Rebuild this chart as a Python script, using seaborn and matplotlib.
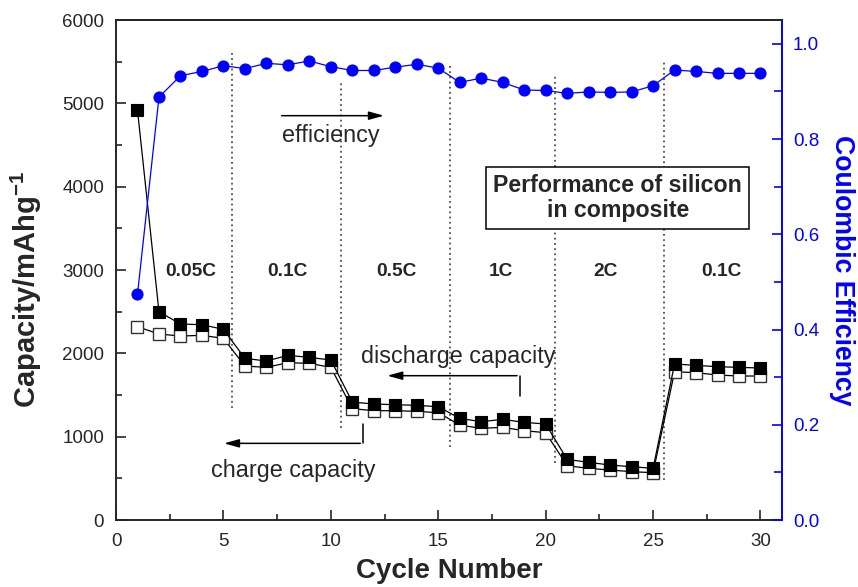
import matplotlib
matplotlib.use("Agg")
import matplotlib.pyplot as plt
import seaborn as sns
import pandas as pd

# Cycling data
cycles = list(range(1, 31))
discharge = [4920, 2500, 2352, 2344, 2288, 1940, 1908, 1976, 1952, 1920,
             1416, 1392, 1384, 1376, 1360, 1220, 1180, 1208, 1172, 1152,
             728, 692, 660, 640, 620, 1872, 1856, 1840, 1832, 1824]
charge = [2320, 2232, 2208, 2216, 2180, 1848, 1832, 1888, 1880, 1832,
          1336, 1312, 1312, 1304, 1288, 1140, 1100, 1112, 1072, 1048,
          652, 620, 600, 580, 568, 1780, 1768, 1740, 1728, 1728]
efficiency = [0.474, 0.888, 0.933, 0.942, 0.954, 0.948, 0.959, 0.956, 0.964, 0.952,
              0.944, 0.944, 0.951, 0.957, 0.949, 0.919, 0.928, 0.919, 0.903, 0.902,
              0.896, 0.899, 0.898, 0.899, 0.912, 0.945, 0.942, 0.938, 0.938, 0.938]

# C-rate segments: label, label x-position, divider after the segment
rate_labels = ["0.05C", "0.1C", "0.5C", "1C", "2C", "0.1C"]
rate_label_x = [3.5, 8.0, 13.05, 17.9, 22.8, 28.2]
dividers = [5.4, 10.45, 15.55, 20.45, 25.5]
divider_top = [5616, 5244, 5484, 5352, 5496]
divider_bottom = [1344, 1104, 876, 684, 480]

df = pd.DataFrame({"cycle": cycles, "discharge": discharge,
                   "charge": charge, "efficiency": efficiency})

sns.set_style("ticks")
plt.rcParams["font.family"] = ["Liberation Sans", "DejaVu Sans"]
plt.rcParams["mathtext.default"] = "regular"

BLUE = "#0000ff"
ANNOT_FS = 16.8

fig = plt.figure(figsize=(8.58, 5.87), dpi=100)
ax = fig.add_axes([0.1352, 0.1141, 0.9114 - 0.1352, 0.9659 - 0.1141])
ax2 = ax.twinx()

sns.lineplot(data=df, x="cycle", y="charge", ax=ax, color="black", lw=0.9,
             marker="s", markersize=8.2, markerfacecolor="white",
             markeredgecolor="#333333", markeredgewidth=1.0, zorder=3)
sns.lineplot(data=df, x="cycle", y="discharge", ax=ax, color="black", lw=0.9,
             marker="s", markersize=8.2, markerfacecolor="black",
             markeredgecolor="black", markeredgewidth=0.8, zorder=4)
sns.lineplot(data=df, x="cycle", y="efficiency", ax=ax2, color=BLUE, lw=0.9,
             marker="o", markersize=8.0, markerfacecolor=BLUE,
             markeredgecolor=BLUE, zorder=4)

# Rate-step dividers
for xd, yt, yb in zip(dividers, divider_top, divider_bottom):
    ax.plot([xd, xd], [yb, yt], ls=(0, (1.2, 2.2)), color="#333333", lw=1.1, zorder=1)

for lab, xl in zip(rate_labels, rate_label_x):
    ax.text(xl, 2980, lab, ha="center", va="center", fontsize=13.8,
            fontweight="bold")

# Annotations
arrow_kw = dict(arrowstyle="-|>,head_length=0.9,head_width=0.25", color="black", lw=1.1)
ax.annotate("", xy=(12.6, 4852), xytext=(7.58, 4852), arrowprops=arrow_kw)
ax.text(10.0, 4620, "efficiency", ha="center", va="center", fontsize=ANNOT_FS)

ax.plot([18.8, 18.8], [1492, 1732], color="black", lw=1.1)
ax.annotate("", xy=(12.5, 1732), xytext=(18.8, 1732), arrowprops=arrow_kw)
ax.text(15.95, 1960, "discharge capacity", ha="center", va="center", fontsize=ANNOT_FS)

ax.plot([11.5, 11.5], [920, 1152], color="black", lw=1.1)
ax.annotate("", xy=(4.9, 920), xytext=(11.5, 920), arrowprops=arrow_kw)
ax.text(8.24, 600, "charge capacity", ha="center", va="center", fontsize=ANNOT_FS)

ax.text(23.35, 3866, "Performance of silicon\nin composite", ha="center",
        va="center", fontsize=16.7, fontweight="bold", linespacing=1.1,
        bbox=dict(boxstyle="square,pad=0.32", fc="white", ec="black", lw=1.1))

# Axes formatting
ax.set_xlim(0, 31)
ax.set_ylim(0, 6000)
ax2.set_ylim(0, 1.05)
ax.set_xticks([0, 5, 10, 15, 20, 25, 30])
ax.set_xticks([2.5, 7.5, 12.5, 17.5, 22.5, 27.5], minor=True)
ax.set_yticks([0, 1000, 2000, 3000, 4000, 5000, 6000])
ax.set_yticks([500, 1500, 2500, 3500, 4500, 5500], minor=True)
ax2.set_yticks([0.0, 0.2, 0.4, 0.6, 0.8, 1.0])
ax2.set_yticks([0.1, 0.3, 0.5, 0.7, 0.9], minor=True)
ax2.set_yticklabels(["0.0", "0.2", "0.4", "0.6", "0.8", "1.0"])

ax.set_xlabel("Cycle Number", fontsize=20, fontweight="bold", labelpad=6)
ax.set_ylabel("Capacity/mAhg$^{-1}$", fontsize=21, fontweight="bold")
ax.yaxis.set_label_coords(-0.108, 0.46)
ax2.set_ylabel("Coulombic Efficiency", fontsize=19.2, fontweight="bold",
               color=BLUE, rotation=270, labelpad=26)

for a in (ax, ax2):
    for s in a.spines.values():
        s.set_linewidth(1.4)
ax.tick_params(axis="both", which="major", direction="in", length=7.5, width=1.2,
               labelsize=13.5)
ax.tick_params(axis="both", which="minor", direction="in", length=4.2, width=1.2)
ax.tick_params(axis="x", which="major", pad=9)
ax.tick_params(axis="y", which="major", pad=8.5)
ax.tick_params(axis="y", which="both", right=False)
ax.tick_params(axis="x", which="both", top=False)
ax2.tick_params(axis="y", which="major", direction="in", length=7.5, width=1.2,
                labelsize=13.5, colors=BLUE, pad=8)
ax2.tick_params(axis="y", which="minor", direction="in", length=5.5, width=1.2,
                colors=BLUE)
ax2.spines["right"].set_color(BLUE)
ax2.spines["left"].set_visible(False)
ax2.spines["bottom"].set_visible(False)
ax.spines["right"].set_visible(False)

ax.grid(False)
ax2.grid(False)
fig.savefig("out.png", dpi=100)
